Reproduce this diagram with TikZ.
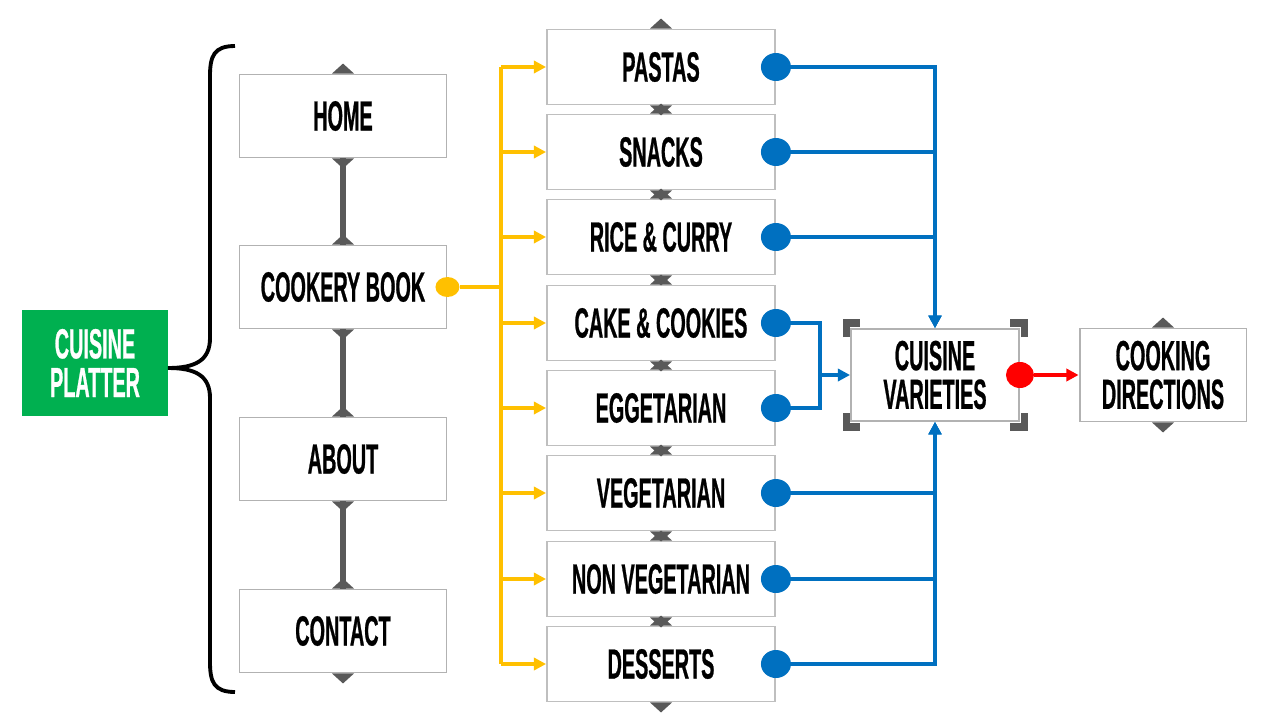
\documentclass[tikz,border=0pt]{standalone}
\usepackage{fontspec}
\usepackage{tikz}
\usetikzlibrary{positioning}
\usetikzlibrary{arrows.meta,calc,shapes.geometric}
\newfontfamily\menufont[FakeStretch=0.47,FakeBold=0.6]{Liberation Sans Bold}
\definecolor{platgreen}{HTML}{00B050}
\definecolor{linkgray}{HTML}{595959}
\definecolor{boxgray}{HTML}{BFBFBF}
\definecolor{dotblue}{HTML}{0070C0}
\definecolor{busyellow}{HTML}{FFC000}
\definecolor{dotred}{HTML}{FF0000}
\tikzstyle{menubox}=[rectangle,draw=boxgray!120,line width=1.1pt,fill=white,minimum width=4.14cm,minimum height=1.66cm,inner sep=0pt,align=center,font=\menufont\fontsize{24}{22}\selectfont]
\tikzstyle{dishbox}=[menubox,draw=boxgray,minimum width=4.56cm,minimum height=1.5cm]
\tikzstyle{platterbox}=[menubox,draw=none,fill=platgreen,text=white,minimum width=2.92cm,minimum height=2.14cm]
\tikzstyle{bluedot}=[ellipse,fill=dotblue,minimum width=0.6cm,minimum height=0.56cm,inner sep=0pt]
\tikzstyle{yellowdot}=[ellipse,fill=busyellow,minimum width=0.48cm,minimum height=0.4cm,inner sep=0pt]
\tikzstyle{reddot}=[ellipse,fill=dotred,minimum width=0.56cm,minimum height=0.52cm,inner sep=0pt]
\tikzstyle{grayedge}=[draw=linkgray,line width=3.6pt]
\tikzstyle{yellowedge}=[draw=busyellow,line width=2.2pt]
\tikzstyle{blueedge}=[draw=dotblue,line width=2.2pt]
\tikzstyle{rededge}=[draw=dotred,line width=2.2pt]
\tikzstyle{tab}=[fill=linkgray]
\tikzstyle{handle}=[draw=linkgray,line width=4pt]
\tikzstyle{brace}=[draw=black,line width=2.2pt]
\tikzset{headtip/.style={-{Triangle[length=7pt,width=7pt]}}}

\begin{document}
\begin{tikzpicture}[x=0.02cm,y=-0.02cm]

  \useasboundingbox (0,0) rectangle (1280,720);

  % site pages
  \foreach \x/\y/\name/\label in {343/116/home/HOME, 343/287/cookery/COOKERY BOOK, 343/459/about/ABOUT, 343/631/contact/CONTACT}
          \node[menubox] (\name) at (\x,\y) {\label};

  % recipe groups
  \foreach \x/\y/\name/\label in {661/67/pastas/PASTAS, 661/152/snacks/SNACKS, 661/237/rice/RICE \& CURRY, 661/323/cake/CAKE \& COOKIES, 661/408/egg/EGGETARIAN, 661/493/veg/VEGETARIAN, 661/579/nonveg/NON VEGETARIAN, 661/664/desserts/DESSERTS}
          \node[dishbox] (\name) at (\x,\y) {\label};

  \node[platterbox] (platter) at (95,363) {CUISINE\\PLATTER};
  \node[menubox,minimum width=3.36cm,minimum height=1.84cm] (var) at (935,375) {CUISINE\\VARIETIES};
  \node[menubox,minimum width=3.34cm,minimum height=1.86cm] (dir) at (1163,375) {COOKING\\DIRECTIONS};

  % brace
  \coordinate (brtip) at (168,368);
  \path[brace] (235,46) .. controls (214,46) and (210,56) .. (210,76) -- (210,338)
        .. controls (210,360) and (196,368) .. (brtip)
        .. controls (196,368) and (210,376) .. (210,398) -- (210,662)
        .. controls (210,682) and (214,692) .. (235,692);

  % page links
  \foreach \source/ \dest in {home/cookery, cookery/about, about/contact}
         \path[grayedge] (\source.south) -- (\dest.north);

  \foreach \name in {home, cookery, about, contact, pastas, snacks, rice, cake, egg, veg, nonveg, desserts, dir}
  {
    \fill[tab] ($(\name.north)+(-11,0)$) -- ++(22,0) -- ++(-11,-10) -- cycle;
    \fill[tab] ($(\name.south)+(-11,0)$) -- ++(22,0) -- ++(-11,10) -- cycle;
  }

  % yellow bus
  \node[yellowdot] (ydot) at (cookery.east) {};
  \coordinate (ybus) at (501,287);
  \path[yellowedge] (ydot) -- (ybus);
  \path[yellowedge] (ybus |- pastas.west) -- (ybus |- desserts.west);
  \foreach \name in {pastas, snacks, rice, cake, egg, veg, nonveg, desserts}
         \path[yellowedge,headtip] (ybus |- \name.west) -- (\name.west);

  % blue links
  \foreach \name in {pastas, snacks, rice, cake, egg, veg, nonveg, desserts}
         \node[bluedot] (\name-dot) at (\name.east) {};

  \foreach \name in {pastas, snacks, rice}
         \path[blueedge,headtip] (\name-dot) -| (var.north);
  \foreach \name in {veg, nonveg, desserts}
         \path[blueedge,headtip] (\name-dot) -| (var.south);

  \coordinate (vjoin) at (820,375);
  \path[blueedge,headtip] (cake-dot) -| (vjoin) -- (var.west);
  \path[blueedge] (egg-dot) -| (vjoin);

  % corner handles
  \foreach \sx/\sy in {-1/-1, 1/-1, -1/1, 1/1}
         \path[handle] ($(var.center)+(\sx*89,\sy*52)+(0,-\sy*14)$) -- ++(0,\sy*14) -- ++(-\sx*14,0);

  \node[reddot] (rdot) at (var.east) {};
  \path[rededge,headtip] (rdot) -- (dir.west);

\end{tikzpicture}
\end{document}
